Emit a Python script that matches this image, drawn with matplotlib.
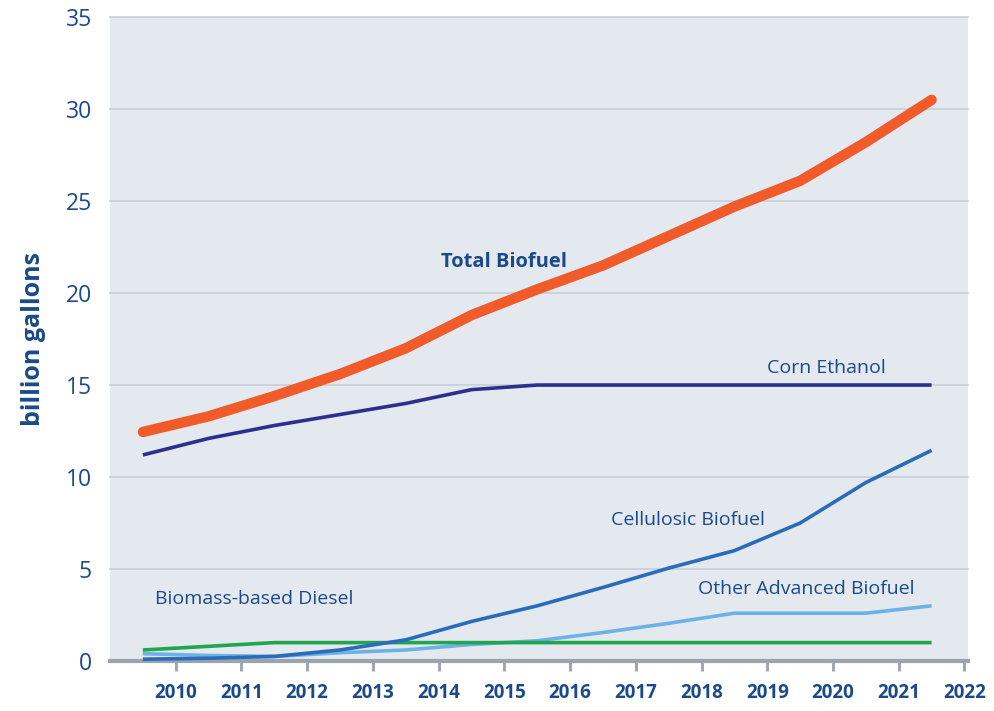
import matplotlib.pyplot as plt

# data points sit half way between the year ticks
years = [2009.5, 2010.5, 2011.5, 2012.5, 2013.5, 2014.5, 2015.5,
         2016.5, 2017.5, 2018.5, 2019.5, 2020.5, 2021.5]
total = [12.45, 13.3, 14.4, 15.6, 17.0, 18.8, 20.2, 21.5, 23.1, 24.7, 26.1, 28.2, 30.5]
corn = [11.2, 12.1, 12.8, 13.4, 14.0, 14.75, 15.0, 15.0, 15.0, 15.0, 15.0, 15.0, 15.0]
cellulosic = [0.1, 0.15, 0.25, 0.6, 1.15, 2.15, 3.0, 4.0, 5.05, 6.0, 7.5, 9.7, 11.45]
other_adv = [0.4, 0.3, 0.25, 0.45, 0.6, 0.9, 1.1, 1.55, 2.05, 2.6, 2.6, 2.6, 3.0]
diesel = [0.6, 0.8, 1.0, 1.0, 1.0, 1.0, 1.0, 1.0, 1.0, 1.0, 1.0, 1.0, 1.0]
xticks = list(range(2010, 2023))
yticks = [0, 5, 10, 15, 20, 25, 30, 35]

txt = "#1b4a8a"
plt.rcParams['font.family'] = ['Open Sans', 'DejaVu Sans']

fig = plt.figure(figsize=(9.95, 7.11), dpi=100, facecolor="white")
ax = fig.add_axes([0.1106, 0.0703, 0.862, 0.9057])
ax.set_facecolor("#e4e8ef")

for y in yticks[1:]:
    ax.axhline(y, color="#c9cfd8", lw=1.2, zorder=1, clip_on=False)

ax.plot(years, other_adv, color="#6cb2e4", lw=2.6, solid_capstyle="butt", zorder=3)
ax.plot(years, diesel, color="#1fa64e", lw=2.6, solid_capstyle="butt", zorder=3)
ax.plot(years, cellulosic, color="#2a6cb8", lw=2.6, solid_capstyle="butt", zorder=4)
ax.plot(years, corn, color="#2e2f8c", lw=2.6, solid_capstyle="butt", zorder=4)
ax.plot(years, total, color="#f15a29", lw=7.5, solid_capstyle="round", zorder=5)

ax.text(2015.0, 21.7, "Total Biofuel", color=txt, fontsize=14.5, fontweight="bold",
        ha="center", va="center")
ax.text(2019.9, 15.95, "Corn Ethanol", color=txt, fontsize=14, ha="center", va="center")
ax.text(2017.8, 7.65, "Cellulosic Biofuel", color=txt, fontsize=14, ha="center", va="center")
ax.text(2019.6, 3.9, "Other Advanced Biofuel", color=txt, fontsize=14, ha="center", va="center")
ax.text(2011.2, 3.35, "Biomass-based Diesel", color=txt, fontsize=14, ha="center", va="center")

ax.set_xlim(2009, 2022.05)
ax.set_ylim(0, 35)
ax.set_xticks(xticks)
ax.set_yticks(yticks)
ax.set_xticklabels([str(x) for x in xticks], fontsize=13.5, fontweight="bold", color=txt)
ax.set_yticklabels([str(y) for y in yticks], fontsize=16.5, color=txt)
ax.tick_params(axis="y", length=0, pad=13)
ax.tick_params(axis="x", length=7, width=2.2, color="#a0a8b2", pad=9, direction="out")

for s in ["top", "right", "left"]:
    ax.spines[s].set_visible(False)
ax.spines["bottom"].set_color("#9aa3ae")
ax.spines["bottom"].set_linewidth(3)

ax.set_ylabel("billion gallons", fontsize=18, fontweight="bold", color=txt, labelpad=14)

plt.savefig("out.png", dpi=100)
